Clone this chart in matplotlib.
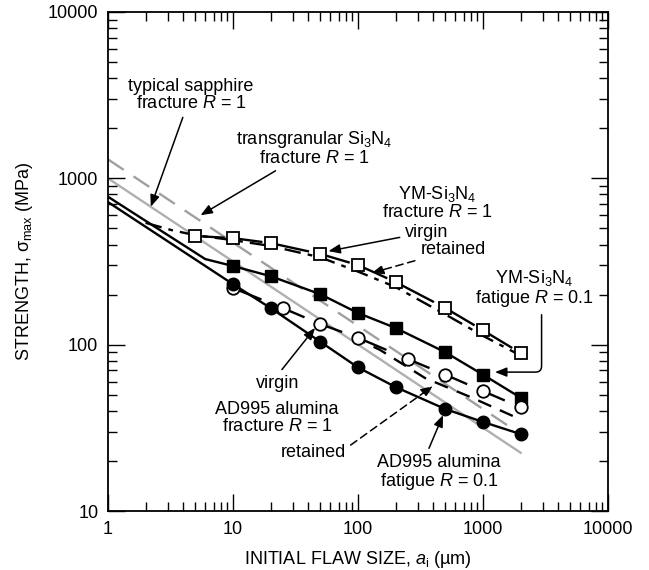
import numpy as np
import matplotlib

matplotlib.use("Agg")
import matplotlib.pyplot as plt

plt.rcParams["font.family"] = ["Liberation Sans", "DejaVu Sans"]
plt.rcParams["mathtext.fontset"] = "custom"
plt.rcParams["mathtext.rm"] = "Liberation Sans"
plt.rcParams["mathtext.it"] = "Liberation Sans:italic"

# reference lines (R = 1 fracture, slope -1/2)
sapphire_x = [1, 2000]
sapphire_y = [1000, 22.4]
transgran_x = [1, 2000]
transgran_y = [1300, 29]

# YM-Si3N4 fracture R = 1, virgin (open squares) and retained (dash-dot)
ym_frac_x = [5, 10, 20, 50, 100, 200, 500, 1000, 2000]
ym_frac_y = [450, 437, 408, 351, 301, 238, 166, 122, 89]
ym_ret_x = [2, 3.2, 5, 10, 20, 50, 100, 200, 500, 1000, 2000]
ym_ret_y = [540, 489, 455, 425, 392, 335, 275, 222, 152, 113, 86]

# YM-Si3N4 fatigue R = 0.1 (filled squares) with lead-in line
ym_fat_lead_x = [1, 6]
ym_fat_lead_y = [775, 327]
ym_fat_x = [10, 20, 50, 100, 200, 500, 1000, 2000]
ym_fat_y = [297, 258, 201, 155, 126, 90, 66, 48]

# AD995 alumina fracture R = 1, virgin (open circles) and retained (dashed)
ad_frac_x = [10, 25, 50, 100, 250, 500, 1000, 2000]
ad_frac_y = [219, 166, 133, 110, 82, 66, 52.6, 42]
ad_ret_x = [90, 150, 344, 832, 2000]
ad_ret_y = [112, 93, 63, 47.7, 35.5]

# AD995 alumina fatigue R = 0.1 (filled circles) with lead-in line
ad_fat_lead_x = [1]
ad_fat_lead_y = [720]
ad_fat_x = [10, 20, 50, 100, 200, 500, 1000, 2000]
ad_fat_y = [231, 166, 104, 73, 55.6, 41, 34.3, 29]


def partial_segments(ax, xs, ys, frac, **kw):
    """Short solid pieces starting at each point, heading to the next one."""
    xs = np.asarray(xs, float)
    ys = np.asarray(ys, float)
    for i in range(len(xs) - 1):
        x1 = xs[i] * (xs[i + 1] / xs[i]) ** frac
        y1 = ys[i] * (ys[i + 1] / ys[i]) ** frac
        ax.plot([xs[i], x1], [ys[i], y1], **kw)


fig = plt.figure(figsize=(6.49, 5.70), dpi=100)
ax = fig.add_axes([108 / 649, 1 - 511 / 570, 500 / 649, 499 / 570])
ax.set_xscale("log")
ax.set_yscale("log")
ax.set_xlim(1, 10000)
ax.set_ylim(10, 10000)

lw = 1.7

# gray guide lines
ax.plot(sapphire_x, sapphire_y, color="#b0b0b0", lw=lw, zorder=1)
ax.plot(transgran_x, transgran_y, color="#a0a0a0", lw=lw, dashes=(8, 5), zorder=1)

# Si3N4
ax.plot(ym_ret_x, ym_ret_y, color="black", lw=lw, dashes=(7, 3, 2, 3), zorder=2)
partial_segments(ax, ym_frac_x, ym_frac_y, 0.75, color="black", lw=lw, zorder=2)
ax.plot(ym_frac_x, ym_frac_y, ls="none", marker="s", ms=8.5, mfc="white", mec="black", mew=1.3, zorder=4)
ax.plot(ym_fat_lead_x + ym_fat_x, ym_fat_lead_y + ym_fat_y, color="black", lw=lw, zorder=2)
ax.plot(ym_fat_x, ym_fat_y, ls="none", marker="s", ms=9, color="black", zorder=4)

# alumina
ax.plot(ad_ret_x, ad_ret_y, color="black", lw=lw, dashes=(6, 4), zorder=2)
partial_segments(ax, ad_frac_x, ad_frac_y, 0.55, color="black", lw=lw, zorder=2)
ax.plot(ad_frac_x, ad_frac_y, ls="none", marker="o", ms=9, mfc="white", mec="black", mew=1.3, zorder=4)
ax.plot(ad_fat_lead_x + ad_fat_x, ad_fat_lead_y + ad_fat_y, color="black", lw=lw, zorder=2)
ax.plot(ad_fat_x, ad_fat_y, ls="none", marker="o", ms=9, color="black", zorder=5)

fs = 13
arrow = dict(arrowstyle="-|>,head_length=0.5,head_width=0.2", color="black", lw=1.1,
             shrinkA=2, shrinkB=0, mutation_scale=14)
darrow = dict(arrow, linestyle=(0, (5, 3)))

ax.annotate("typical sapphire\nfracture $R$ = 1", xy=(2.2, 675), xytext=(4.6, 3170),
            ha="center", va="center", fontsize=fs, linespacing=1.0, arrowprops=arrow)
ax.annotate("transgranular Si$_3$N$_4$\nfracture $R$ = 1", xy=(5.5, 600), xytext=(45, 1530),
            ha="center", va="center", fontsize=fs, linespacing=1.0, arrowprops=arrow)
ax.text(428, 715, "YM-Si$_3$N$_4$\nfracture $R$ = 1", ha="center", va="center",
        fontsize=fs, linespacing=1.0)
ax.annotate("virgin", xy=(58, 365), xytext=(356, 475), ha="center", va="center",
            fontsize=fs, arrowprops=arrow)
ax.annotate("retained", xy=(129, 270), xytext=(575, 371), ha="center", va="center",
            fontsize=fs, arrowprops=darrow)
ax.annotate("YM-Si$_3$N$_4$\nfatigue $R$ = 0.1", xy=(1247, 68.4), xytext=(2580, 217),
            ha="center", va="center", fontsize=fs, linespacing=1.0,
            arrowprops=dict(arrow, relpos=(0.56, 0.0),
                            connectionstyle="angle,angleA=-90,angleB=0,rad=6"))
ax.annotate("virgin", xy=(45.3, 126), xytext=(22.9, 58.8), ha="center", va="center",
            fontsize=fs, arrowprops=dict(arrow, relpos=(0.5, 1.0)))
ax.text(22.5, 36.2, "AD995 alumina\nfracture $R$ = 1", ha="center", va="center",
        fontsize=fs, linespacing=1.0)
ax.annotate("retained", xy=(398, 56.4), xytext=(43.6, 22.6), ha="center", va="center",
            fontsize=fs, arrowprops=dict(darrow, relpos=(1.0, 0.7)))
ax.annotate("AD995 alumina\nfatigue $R$ = 0.1", xy=(479, 37.7), xytext=(445, 17.0),
            ha="center", va="center", fontsize=fs, linespacing=1.0,
            arrowprops=dict(arrow, relpos=(0.4, 1.0)))

ax.set_xlabel("INITIAL FLAW SIZE, $a_{\\rm i}$ (µm)", fontsize=13, labelpad=8)
ax.set_ylabel("STRENGTH, σ$_{\\rm max}$ (MPa)", fontsize=13, labelpad=9)
ax.set_xticks([1, 10, 100, 1000, 10000])
ax.set_xticklabels(["1", "10", "100", "1000", "10000"])
ax.set_yticks([10, 100, 1000, 10000])
ax.set_yticklabels(["10", "100", "1000", "10000"])
ax.tick_params(which="both", direction="in", top=True, right=True, labelsize=13, width=1.0)
ax.tick_params(which="major", length=12, pad=7)
ax.tick_params(which="minor", length=6.5)
for sp in ax.spines.values():
    sp.set_linewidth(1.3)

fig.savefig("out.png", dpi=100)
